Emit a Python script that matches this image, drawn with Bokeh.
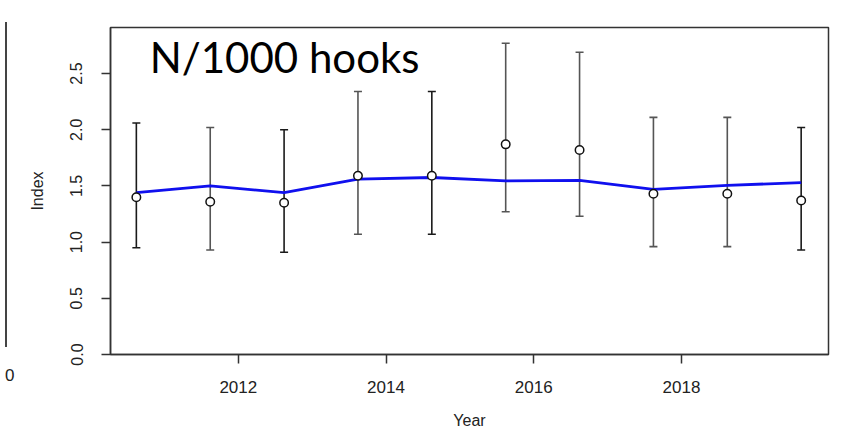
from bokeh.plotting import figure
from bokeh.models import ColumnDataSource, Whisker, TeeHead, Label, Range1d, FixedTicker, Div
from bokeh.layouts import row
from bokeh.embed import file_html
from bokeh.resources import INLINE

# data
years = [2010.62, 2011.62, 2012.62, 2013.62, 2014.62, 2015.62, 2016.62, 2017.62, 2018.62, 2019.62]
index_vals = [1.40, 1.36, 1.35, 1.59, 1.59, 1.87, 1.82, 1.43, 1.43, 1.37]
upper_ci = [2.06, 2.02, 2.00, 2.34, 2.34, 2.77, 2.69, 2.11, 2.11, 2.02]
lower_ci = [0.95, 0.93, 0.91, 1.07, 1.07, 1.27, 1.23, 0.96, 0.96, 0.93]
trend = [1.44, 1.50, 1.44, 1.56, 1.575, 1.545, 1.55, 1.47, 1.505, 1.53]
x_ticks = [2012, 2014, 2016, 2018]
y_ticks = [0.0, 0.5, 1.0, 1.5, 2.0, 2.5]

source = ColumnDataSource(data=dict(year=years, index=index_vals, upper=upper_ci, lower=lower_ci, trend=trend))

# the scan renders some error bars darker than others
dark_bar, light_bar = "#1a1a1a", "#555555"
source.data["bar_color"] = [dark_bar, light_bar, dark_bar, light_bar, dark_bar,
                            light_bar, light_bar, light_bar, light_bar, dark_bar]

edge_w = 14
p = figure(width=816, height=431, output_backend="svg", toolbar_location=None,
           x_range=Range1d(2010.27, 2019.99), y_range=Range1d(0, 2.91),
           min_border_left=86, min_border_right=12, min_border_top=27, min_border_bottom=76)

p.background_fill_color = "white"
p.border_fill_color = "white"
p.outline_line_color = "#333333"
p.outline_line_width = 1.5
p.xgrid.visible = False
p.ygrid.visible = False

tick_font = "Liberation Sans"
for ax in (p.xaxis, p.yaxis):
    ax.axis_line_color = "#333333"
    ax.axis_line_width = 1.5
    ax.major_tick_line_color = "#333333"
    ax.major_tick_line_width = 1.5
    ax.major_tick_in = 0
    ax.major_tick_out = 9
    ax.minor_tick_line_color = None
    ax.major_label_text_font = tick_font
    ax.major_label_text_font_size = "16px"
    ax.major_label_text_color = "#222222"
    ax.axis_label_text_font = tick_font
    ax.axis_label_text_font_size = "16px"
    ax.axis_label_text_font_style = "normal"
    ax.axis_label_text_color = "#222222"

p.xaxis.ticker = FixedTicker(ticks=x_ticks)
p.yaxis.ticker = FixedTicker(ticks=y_ticks)
p.yaxis.major_label_overrides = {t: "%.1f" % t for t in y_ticks}
p.xaxis.major_label_text_font_size = "17px"
p.yaxis.major_label_orientation = "vertical"
p.xaxis.major_label_standoff = 17
p.yaxis.major_label_standoff = 19
p.xaxis.axis_label = "Year"
p.yaxis.axis_label = "Index"
p.xaxis.axis_label_standoff = 16
p.yaxis.axis_label_standoff = 22

# error bars
whisk = Whisker(base="year", upper="upper", lower="lower", source=source,
                line_color="bar_color", line_width=1.6,
                upper_head=TeeHead(size=8, line_color="bar_color", line_width=1.6),
                lower_head=TeeHead(size=8, line_color="bar_color", line_width=1.6))
p.add_layout(whisk)

p.line("year", "trend", source=source, line_color="#1010ee", line_width=2.8)
p.scatter("year", "index", source=source, size=8.5, fill_color="white",
          line_color="#111111", line_width=1.5)

p.add_layout(Label(x=2010.80, y=2.65, text="N/1000 hooks", text_font="Lato",
                   text_font_size="42px", text_color="black", text_baseline="alphabetic"))

# cropped neighbour panel at the far left edge
edge = Div(width=edge_w, height=431, styles={"position": "relative", "background": "white"},
           text='<div style="position:absolute;left:0;top:17px;width:2px;height:325px;background:#444"></div>'
                '<div style="position:absolute;left:0;top:362px;font-family:Liberation Sans;'
                'font-size:17px;color:#222;line-height:17px">0</div>')

layout = row(edge, p)
open("out.html", "w").write(file_html(layout, INLINE))
